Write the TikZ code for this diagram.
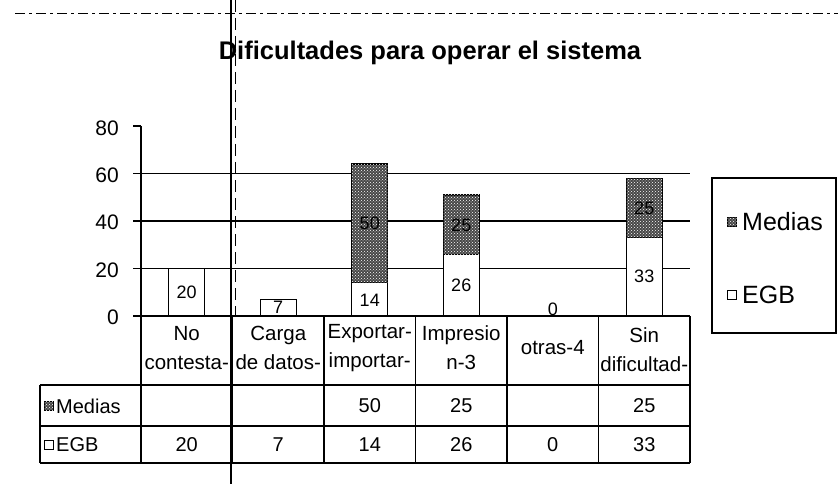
\documentclass[tikz,border=0pt]{standalone}
\usepackage{fontspec}
\setmainfont{Liberation Sans}
\usetikzlibrary{patterns}
\begin{document}
\begin{tikzpicture}[x=1pt,y=-1pt,
  gridline/.style={line width=1.3pt},
  tabline/.style={line width=1.1pt},
  barbox/.style={draw=black,line width=1.3pt},
  mediasfill/.style={barbox,fill=black!72,postaction={pattern=crosshatch dots,pattern color=white}},
  egbfill/.style={barbox,fill=white},
  vallbl/.style={font=\fontsize{18}{18}\selectfont,inner sep=1pt},
  axlbl/.style={font=\fontsize{21}{21}\selectfont,anchor=east,inner sep=0pt},
  headlbl/.style={font=\fontsize{20.5}{29}\selectfont,align=center,inner sep=0pt},
  celllbl/.style={font=\fontsize{20}{20}\selectfont,inner sep=0pt},
  rowlbl/.style={font=\fontsize{20}{20}\selectfont,anchor=west,inner sep=0pt},
  leglbl/.style={font=\fontsize{25}{25}\selectfont,anchor=west,inner sep=0pt},
  iconbox/.style={draw=black,line width=0.9pt,minimum size=9pt,inner sep=0pt}
]
\useasboundingbox (0,0) rectangle (838,484);
\fill[white] (0,0) rectangle (838,484);

% scan artefacts
\draw[line width=1pt,dash pattern=on 10pt off 4pt on 3pt off 4pt] (15,14) -- (838,14);
\draw[line width=0.5pt,dash pattern=on 12pt off 6pt] (235,0) -- (235,316);

% title
\node[font=\fontsize{25.5}{25.5}\selectfont\bfseries] (title) at (430,53) {Dificultades para operar el sistema};

% grid lines
\draw[gridline] (133,268.5) -- (690,268.5);
\draw[gridline] (133,221) -- (690,221);
\draw[gridline] (133,173.5) -- (690,173.5);

% y axis and ticks
\draw[gridline] (141,126) -- (141,463);
\foreach \yy in {126,173.5,221,268.5} \draw[gridline] (133,\yy) -- (141,\yy);
\draw[gridline] (133,316) -- (690,316);

\node[axlbl] (y80) at (119,128) {80};
\node[axlbl] (y60) at (119,175) {60};
\node[axlbl] (y40) at (119,222) {40};
\node[axlbl] (y20) at (119,270) {20};
\node[axlbl] (y0)  at (119,317) {0};

% bars
\draw[egbfill] (168.75,316) rectangle (204.75,268.5);
\draw[egbfill] (260.25,316) rectangle (296.25,299.4);
\draw[egbfill] (351.75,316) rectangle (387.75,282.75);
\draw[mediasfill] (351.75,282.75) rectangle (387.75,164);
\draw[egbfill] (443.25,316) rectangle (479.25,254.25);
\draw[mediasfill] (443.25,254.25) rectangle (479.25,194.9);
\draw[egbfill] (626.25,316) rectangle (662.25,237.6);
\draw[mediasfill] (626.25,237.6) rectangle (662.25,178.25);

% value labels
\node[vallbl] (v1) at (186.75,292) {20};
\node[vallbl] (v2) at (278.25,307) {7};
\node[vallbl] (v3a) at (369.75,300) {14};
\node[vallbl] (v3b) at (369.75,223) {50};
\node[vallbl] (v4a) at (461.25,285) {26};
\node[vallbl] (v4b) at (461.25,225) {25};
\node[vallbl] (v5) at (552.75,309) {0};
\node[vallbl] (v6a) at (644.25,276) {33};
\node[vallbl] (v6b) at (644.25,208) {25};

% legend
\draw[line width=1.1pt] (712,178) rectangle (836,333);
\node[iconbox,mediasfill,line width=0.9pt] (legm) at (732,222) {};
\node[leglbl] (legmt) at (742,222) {Medias};
\node[iconbox,fill=white] (lege) at (732,295) {};
\node[leglbl] (leget) at (742,295) {EGB};

% data table
\draw[tabline] (40,385) -- (690,385);
\draw[tabline] (40,426) -- (690,426);
\draw[tabline] (40,463) -- (690,463);
\draw[tabline] (40,385) -- (40,463);
\foreach \xx in {232.5,324,415.5,507,598.5,690} \draw[tabline] (\xx,316) -- (\xx,463);

\node[headlbl] (h1) at (186.75,348) {No\\contesta-};
\node[headlbl] (h2) at (278.25,348) {Carga\\de datos-};
\node[headlbl] (h3) at (369.75,348) {Exportar-\\importar-};
\node[headlbl] (h4) at (461.25,348) {Impresio\\n-3};
\node[headlbl] (h5) at (552.75,348) {otras-4};
\node[headlbl] (h6) at (644.25,350) {Sin\\dificultad-};

\node[iconbox,mediasfill,line width=0.9pt] (rm) at (49,406) {};
\node[rowlbl] (rmt) at (56,406) {Medias};
\node[iconbox,fill=white] (re) at (49,445) {};
\node[rowlbl] (ret) at (56,445) {EGB};

\node[celllbl] (m3) at (369.75,406) {50};
\node[celllbl] (m4) at (461.25,406) {25};
\node[celllbl] (m6) at (644.25,406) {25};
\node[celllbl] (e1) at (186.75,445) {20};
\node[celllbl] (e2) at (278.25,445) {7};
\node[celllbl] (e3) at (369.75,445) {14};
\node[celllbl] (e4) at (461.25,445) {26};
\node[celllbl] (e5) at (552.75,445) {0};
\node[celllbl] (e6) at (644.25,445) {33};

% scan fold line
\draw[line width=1.6pt] (231,0) -- (231,484);
\end{tikzpicture}
\end{document}
